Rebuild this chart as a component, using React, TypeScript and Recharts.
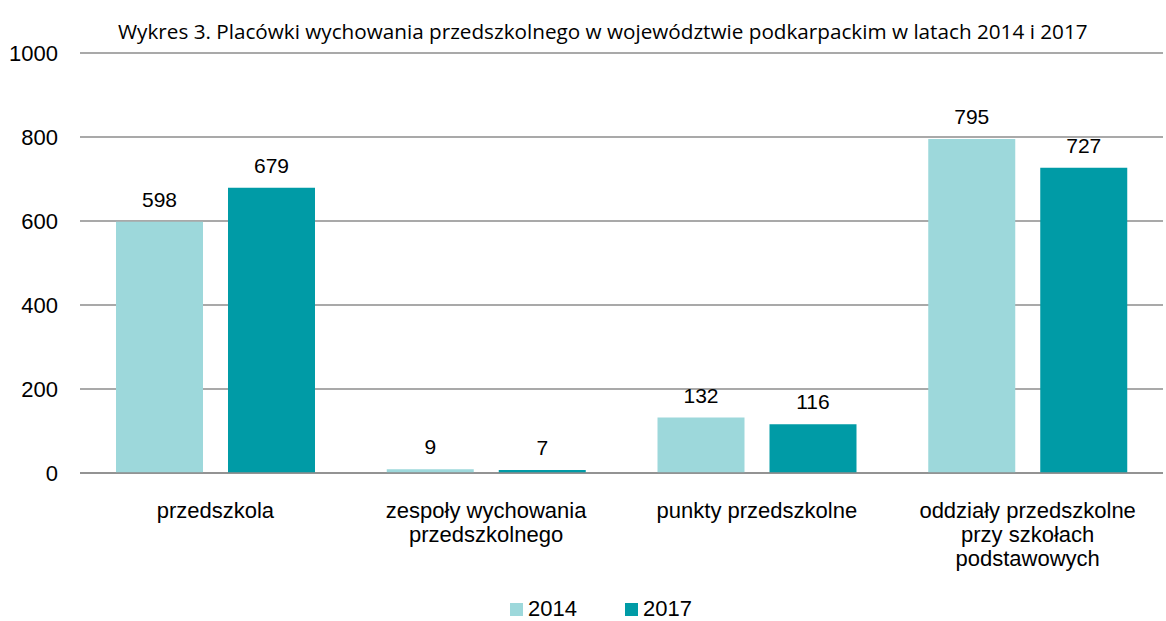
import { BarChart, Bar, XAxis, YAxis, CartesianGrid, Legend, LabelList } from "recharts";

const categories = [
  "przedszkola",
  "zespoły wychowania\nprzedszkolnego",
  "punkty przedszkolne",
  "oddziały przedszkolne\nprzy szkołach\npodstawowych",
];
const values2014 = [598, 9, 132, 795];
const values2017 = [679, 7, 116, 727];
const yTicks = [0, 200, 400, 600, 800, 1000];
const seriesInfo = [
  { key: "y2014", label: "2014", color: "#9dd8db" },
  { key: "y2017", label: "2017", color: "#009ba6" },
];

const data = categories.map((name, i) => ({ name, y2014: values2014[i], y2017: values2017[i] }));

const AXIS_FONT = "'Liberation Sans', Arial, sans-serif";

function CategoryTick(props: any) {
  const { x, y, payload } = props;
  const lines = String(payload.value).split("\n");
  return (
    <text x={x} y={y} textAnchor="middle" fontFamily={AXIS_FONT} fontSize={22} fill="#000">
      {lines.map((l, i) => (
        <tspan key={i} x={x} dy={i === 0 ? 37 : 24}>{l}</tspan>
      ))}
    </text>
  );
}

function LegendBox() {
  return (
    <div style={{ display: "flex", paddingLeft: 510, fontFamily: AXIS_FONT, fontSize: 22, color: "#000", lineHeight: "24px" }}>
      {seriesInfo.map((s, i) => (
        <div key={s.key} style={{ display: "flex", alignItems: "center", marginRight: i === 0 ? 48 : 0 }}>
          <span style={{ width: 13, height: 13, background: s.color, marginRight: 5, display: "inline-block" }} />
          <span>{s.label}</span>
        </div>
      ))}
    </div>
  );
}

export default function App() {
  return (
    <div style={{ position: "absolute", left: 0, top: 0, width: 1166, height: 621, background: "#fff" }}>
      <div
        style={{
          position: "absolute", left: 118, top: 17, fontFamily: "'Open Sans', sans-serif",
          fontSize: 20.7, color: "#000", whiteSpace: "nowrap", lineHeight: "28px",
        }}
      >
        Wykres 3. Placówki wychowania przedszkolnego w województwie podkarpackim w latach 2014 i 2017
      </div>
      <BarChart
        width={1166}
        height={621}
        data={data}
        margin={{ top: 53, right: 3, bottom: 0, left: 0 }}
        barCategoryGap={36}
        barGap={25}
      >
        <CartesianGrid vertical={false} stroke="#8c8c8c" strokeWidth={1.5} />
        <YAxis
          width={80}
          domain={[0, 1000]}
          ticks={yTicks}
          axisLine={false}
          tickLine={false}
          tickSize={0}
          tickMargin={22}
          tick={{ fontFamily: AXIS_FONT, fontSize: 22, fill: "#000" }}
        />
        <XAxis
          dataKey="name"
          height={124}
          interval={0}
          axisLine={{ stroke: "#8c8c8c", strokeWidth: 1.5 }}
          tickLine={false}
          tick={<CategoryTick />}
        />
        <Legend
          verticalAlign="bottom"
          content={<LegendBox />}
          wrapperStyle={{ left: 0, width: 1166, bottom: 0 }}
        />
        <Bar dataKey="y2014" name="2014" fill="#9dd8db" isAnimationActive={false}>
          <LabelList dataKey="y2014" position="top" offset={15} style={{ fontFamily: AXIS_FONT, fontSize: 21, fill: "#000" }} />
        </Bar>
        <Bar dataKey="y2017" name="2017" fill="#009ba6" isAnimationActive={false}>
          <LabelList dataKey="y2017" position="top" offset={15} style={{ fontFamily: AXIS_FONT, fontSize: 21, fill: "#000" }} />
        </Bar>
      </BarChart>
    </div>
  );
}
